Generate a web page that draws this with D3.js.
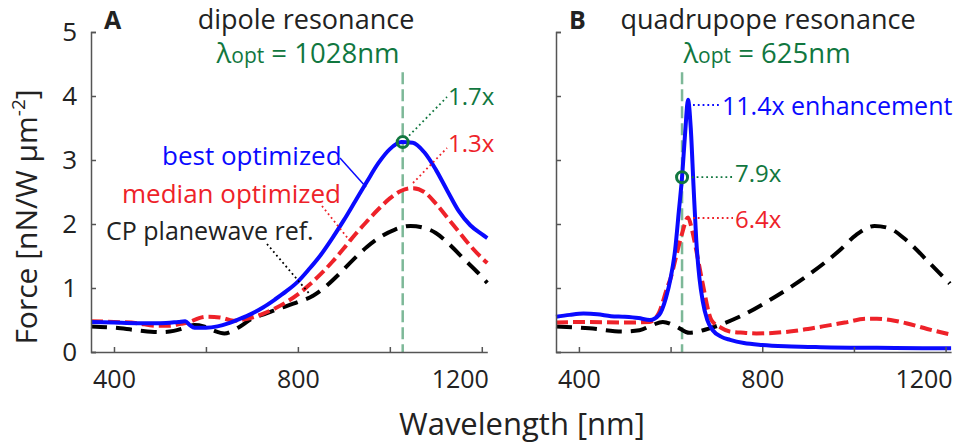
<!DOCTYPE html>
<html><head><meta charset="utf-8">
<script src="https://cdn.jsdelivr.net/npm/d3@7"></script>
<style>
body{margin:0;background:#fff;}
svg{display:block;font-family:"Open Sans",sans-serif;}
</style></head>
<body>
<svg id="c" width="960" height="444"></svg>
<script>
// ---------- DATA ----------
const xTicks = [400, 600, 800, 1000, 1200];
const xTickLabels = ["400", "", "800", "", "1200"];
const yTicks = [0, 1, 2, 3, 4, 5];

// Panel A: dipole resonance
const wlA_best = [350,400,450,500,540,555,565,575,600,625,650,675,700,725,750,775,800,825,850,875,900,925,950,975,1000,1025,1050,1075,1100,1125,1150,1175,1200,1212];
const bestA    = [0.47,0.46,0.45,0.45,0.47,0.48,0.42,0.38,0.38,0.40,0.45,0.52,0.60,0.70,0.82,0.95,1.10,1.30,1.52,1.78,2.06,2.36,2.66,2.95,3.17,3.28,3.27,3.12,2.85,2.52,2.20,1.98,1.84,1.78];
const wlA_med  = [350,400,450,490,520,545,565,585,600,630,660,690,725,750,775,800,825,850,875,900,925,950,975,1000,1025,1050,1075,1100,1125,1150,1175,1200,1212];
const medianA  = [0.48,0.47,0.45,0.41,0.41,0.44,0.47,0.53,0.55,0.54,0.49,0.52,0.60,0.68,0.78,0.90,1.05,1.22,1.41,1.62,1.84,2.04,2.23,2.40,2.52,2.56,2.50,2.32,2.10,1.88,1.66,1.47,1.39];
const wlA_ref  = [350,400,450,500,530,555,575,595,615,640,670,700,730,760,800,833,860,890,920,950,980,1010,1045,1075,1100,1130,1160,1190,1212];
const refA     = [0.40,0.38,0.34,0.31,0.33,0.38,0.42,0.40,0.34,0.29,0.38,0.52,0.60,0.68,0.78,0.88,1.02,1.22,1.44,1.64,1.80,1.91,1.97,1.94,1.86,1.68,1.46,1.25,1.08];

// Panel B: quadrupole resonance
const wlB_best = [350,380,410,440,470,500,530,555,575,590,600,610,618,625,632,638,644,650,656,663,670,680,692,710,730,760,800,850,900,950,1050,1150,1212];
const bestB    = [0.55,0.58,0.60,0.59,0.56,0.55,0.53,0.50,0.58,0.85,1.15,1.60,2.20,2.73,3.45,3.94,3.50,2.60,1.75,1.15,0.80,0.50,0.34,0.24,0.19,0.14,0.11,0.09,0.08,0.07,0.065,0.06,0.06];
const wlB_med  = [350,420,500,554,575,591,602,612,625,638,647,656,670,689,710,729,760,787,860,932,980,1027,1050,1080,1114,1160,1212];
const medianB  = [0.46,0.47,0.46,0.47,0.62,0.97,1.20,1.49,1.85,2.10,1.90,1.59,1.07,0.50,0.38,0.32,0.30,0.29,0.32,0.40,0.46,0.52,0.52,0.50,0.45,0.36,0.27];
const wlB_ref  = [350,423,496,532,560,583,612,641,685,750,823,896,969,1005,1045,1078,1114,1165,1209];
const refB     = [0.40,0.37,0.32,0.34,0.42,0.47,0.40,0.30,0.37,0.55,0.84,1.18,1.59,1.83,1.97,1.93,1.75,1.39,1.07];

// Annotation values
const optA = {wl: 1028, force: 3.28, lineTop: 4.37};
const optB = {wl: 625,  force: 2.73, lineTop: 4.37};

// ---------- STYLE ----------
const BLUE = "#0a0aff", RED = "#ee2229", BLACK = "#000", GREEN = "#11773f", VGREEN = "#7db898", AXIS = "#555";

const svg = d3.select("#c");
const y = d3.scaleLinear([0, 5], [352, 32]);
const xA = d3.scaleLinear([350, 1212], [91, 487.3]);
const xB = d3.scaleLinear([350, 1212], [556, 951.1]);

function panel(x, showYLabels, series, opt) {
  const g = svg.append("g");
  g.append("line").attr("x1", x(opt.wl)).attr("x2", x(opt.wl))
    .attr("y1", y(opt.lineTop)).attr("y2", y(0))
    .attr("stroke", VGREEN).attr("stroke-width", 2.5).attr("stroke-dasharray", "12,5");
  const line = d3.line().x(d => x(d[0])).y(d => y(d[1])).curve(d3.curveMonotoneX);
  series.forEach(s => {
    g.append("path").datum(d3.zip(s.wl, s.v)).attr("d", line)
      .attr("fill", "none").attr("stroke", s.color).attr("stroke-width", 4)
      .attr("stroke-dasharray", s.dash || null);
  });
  const ax = d3.axisBottom(x).tickValues(xTicks).tickSize(-5).tickSizeOuter(0).tickPadding(18)
    .tickFormat((d, i) => xTickLabels[i]);
  const gx = g.append("g").attr("transform", `translate(0,${y(0)})`).call(ax);
  gx.select(".domain").attr("stroke", AXIS).attr("stroke-width", 1.5);
  gx.selectAll(".tick line").attr("stroke", AXIS).attr("stroke-width", 1.5);
  gx.selectAll("text").attr("font-size", 25).attr("fill", "#222").attr("font-family", "Open Sans");
  gx.selectAll(".tick").filter(d => d === 1200).select("text")
    .attr("text-anchor", "end").attr("x", x.range()[1] - x(1200) + 1);
  const ay = d3.axisLeft(y).tickValues(yTicks).tickSize(-5).tickSizeOuter(-5).tickPadding(14)
    .tickFormat(showYLabels ? d3.format("d") : () => "");
  const gy = g.append("g").attr("transform", `translate(${x.range()[0]},0)`).call(ay);
  gy.select(".domain").attr("stroke", AXIS).attr("stroke-width", 1.5);
  gy.selectAll(".tick line").attr("stroke", AXIS).attr("stroke-width", 1.5);
  gy.selectAll("text").attr("font-size", 26).attr("fill", "#222").attr("font-family", "Open Sans");
  return g;
}

panel(xA, true, [
  {wl: wlA_ref, v: refA, color: BLACK, dash: "16,9"},
  {wl: wlA_med, v: medianA, color: RED, dash: "12,5"},
  {wl: wlA_best, v: bestA, color: BLUE}
], optA);
panel(xB, false, [
  {wl: wlB_ref, v: refB, color: BLACK, dash: "16,9"},
  {wl: wlB_med, v: medianB, color: RED, dash: "12,5"},
  {wl: wlB_best, v: bestB, color: BLUE}
], optB);

[[xA, optA], [xB, optB]].forEach(([x, o]) => {
  svg.append("circle").attr("cx", x(o.wl)).attr("cy", y(o.force)).attr("r", 5.5)
    .attr("fill", "none").attr("stroke", GREEN).attr("stroke-width", 3);
});

function txt(x, yy, s, opts) {
  const t = svg.append("text").attr("x", x).attr("y", yy).text(s)
    .attr("font-size", opts.size || 24).attr("fill", opts.color || "#222")
    .attr("text-anchor", opts.anchor || "start");
  if (opts.bold) t.attr("font-weight", "bold");
  return t;
}
txt(104, 29, "A", {size: 25, bold: true});
txt(306, 29, "dipole resonance", {size: 27, anchor: "middle"});
txt(569, 29, "B", {size: 25, bold: true});
txt(768, 29, "quadrupope resonance", {size: 27, anchor: "middle"});

function lam(cx, s) {
  const t = svg.append("text").attr("x", cx).attr("y", 63).attr("text-anchor", "middle")
    .attr("fill", GREEN).attr("font-size", 27.5);
  t.append("tspan").text("λ");
  t.append("tspan").text("opt").attr("font-size", 21);
  t.append("tspan").text(" = " + s);
}
lam(308, "1028nm");
lam(767, "625nm");

function conn(x1, y1, x2, y2, color, dotted) {
  svg.append("line").attr("x1", x1).attr("y1", y1).attr("x2", x2).attr("y2", y2)
    .attr("stroke", color).attr("stroke-width", dotted ? 1.8 : 1.5)
    .attr("stroke-dasharray", dotted ? "1.8,3" : null);
}
// Panel A
conn(xA(optA.wl) + 3, y(optA.force) - 3, 447, 97, GREEN, true);
txt(448, 105, "1.7x", {color: GREEN});
conn(413, 183, 447, 148, RED, true);
txt(448, 152, "1.3x", {color: RED});
txt(162, 165, "best optimized", {color: BLUE, size: 26});
conn(340, 158, 366, 187, BLUE, false);
txt(122, 203, "median optimized", {color: RED, size: 26});
conn(322, 206, 350, 241, RED, true);
txt(106, 240, "CP planewave ref.", {color: "#222", size: 25});
conn(267, 244, 313, 298, BLACK, true);
// Panel B
conn(693, 105, 720, 105, BLUE, true);
txt(722, 115, "11.4x enhancement", {color: BLUE, size: 25});
conn(xB(optB.wl) + 5, y(optB.force), 733, 177, GREEN, true);
txt(735, 182, "7.9x", {color: GREEN});
conn(693, 218, 733, 218, RED, true);
txt(735, 228, "6.4x", {color: RED});

const yl = svg.append("text").attr("transform", "translate(37,217) rotate(-90)")
  .attr("text-anchor", "middle").attr("font-size", 30).attr("fill", "#222");
yl.append("tspan").text("Force [nN/W μm");
yl.append("tspan").text("-2").attr("font-size", 19).attr("dy", -12);
yl.append("tspan").text("]").attr("dy", 12);
txt(522, 435, "Wavelength [nm]", {size: 31, anchor: "middle"});
</script>
</body></html>
